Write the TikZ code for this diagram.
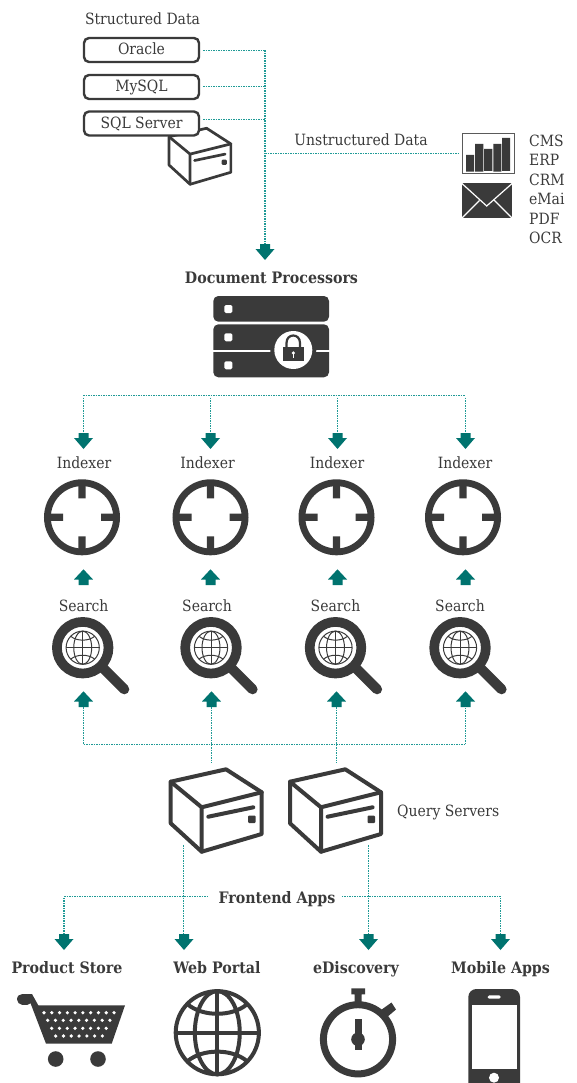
\documentclass[tikz,border=0pt]{standalone}
\usepackage{fontspec}
\setmainfont{DejaVu Serif Condensed}
\definecolor{ink}{HTML}{3A3A3A}
\definecolor{teal1}{HTML}{00736F}
\definecolor{dots}{HTML}{1F9A96}
\definecolor{framec}{HTML}{5A5A5A}
\tikzset{
  lbl/.style={inner sep=0pt,text=ink,text height=11pt,text depth=2pt,font=\fontsize{15.5}{16}\selectfont},
  blbl/.style={lbl,font=\fontsize{15.8}{16}\selectfont\bfseries},
  dbbox/.style={draw=ink,line width=2.4pt,rounded corners=5pt,fill=white,minimum width=115pt,minimum height=24pt,inner sep=0pt,text=ink,text height=12pt,text depth=2pt,font=\fontsize{15.5}{16}\selectfont},
  dotline/.style={draw=dots,line width=1.5pt,dash pattern=on 1.5pt off 1pt},
  pics/downarrow/.style={code={\fill[teal1] (-5,0)--(5,0)--(5,5)--(9.5,5)--(0,16)--(-9.5,5)--(-5,5)--cycle;}},
  pics/uparrow/.style={code={\fill[teal1] (-5,0)--(5,0)--(5,-5.5)--(9.5,-5.5)--(0,-15.7)--(-9.5,-5.5)--(-5,-5.5)--cycle;}},
  pics/crate/.style={code={
    \draw[ink,line join=round,line cap=round,fill=white] (0,0)--(55.3,-12.4)--(91,10.6)--(91,52.3)--(31,70)--(0,41.6)--cycle;
    \draw[ink,line join=round,line cap=round] (0,0)--(31,25.6)--(91,10.6) (31,25.6)--(31,70);
    \draw[ink,line cap=round] (37.6,35)--(82.6,25.6);
    \fill[ink,rounded corners=1pt] (77.5,33.8) rectangle (85,41.3);
  }},
  pics/target/.style={code={
    \draw[ink,line width=6.8pt] (0,0) circle (34.6);
    \fill[ink] (-3.6,-35) rectangle (3.6,-19) (-3.6,35) rectangle (3.6,19) (-35,-3.6) rectangle (-19,3.6) (35,-3.6) rectangle (19,3.6);
  }},
  pics/globe/.style={code={
    \draw[ink] (0,0) circle (1);
    \draw[ink] (0,-1)--(0,1) (-1,0)--(1,0);
    \draw[ink] (0,0) ellipse (.54 and 1);
    \draw[ink] (-.71,-.68) .. controls (-.35,-.38) and (.35,-.38) .. (.71,-.68);
    \draw[ink] (-.71,.68) .. controls (-.35,.38) and (.35,.38) .. (.71,.68);
  }},
  pics/magnifier/.style={code={
    \draw[ink,line width=9.7pt] (0,0) circle (25.8);
    \draw[ink,line width=10pt,line cap=round] (19,19)--(41.6,41.6);
    \pic[scale=16.6,line width=1pt] {globe};
  }}
}
\begin{document}
\begin{tikzpicture}[x=1pt,y=-1pt]
\useasboundingbox (0,0) rectangle (576,1083);
\clip (0,0) rectangle (576,1083);

% --- structured data
\node[lbl] (structured) at (142.5,20.5) {Structured Data};
\pic[scale=.68,line width=2.7pt] at (169,136.7) {crate};
\node[dbbox] (oracle) at (141.5,50) {Oracle};
\node[dbbox] (mysql) at (141.5,87) {MySQL};
\node[dbbox] (sqlserver) at (141.5,123.5) {SQL Server};

% --- unstructured data
\node[lbl] (unstructured) at (361,141.5) {Unstructured Data};
\node[draw=framec,line width=1.4pt,fill=white,minimum width=52pt,minimum height=40pt,inner sep=0pt] (chart) at (488.3,153.8) {};
\fill[ink] (466,155) rectangle (474,171.7)
 (475,144) rectangle (483.3,171.7)
 (484,149) rectangle (492.3,171)
 (493.3,144) rectangle (501.3,171.7)
 (502,138) rectangle (510,171);
\fill[ink] (461.7,183.3) rectangle (512.3,218.3);
\draw[white,line width=1.2pt] (461.7,183.3)--(486.7,206)--(512.3,183.3);
\draw[white,line width=1.2pt] (461.7,218.3)--(479.5,200.5) (512.3,218.3)--(494,200);
\node[lbl,anchor=west] (cms) at (529,142.2) {CMS};
\node[lbl,anchor=west] (erp) at (529,161.5) {ERP};
\node[lbl,anchor=west] (crm) at (529,180.8) {CRM};
\node[lbl,anchor=west] (emai) at (529,200.5) {eMai};
\node[lbl,anchor=west] (pdf) at (529,219.8) {PDF};
\node[lbl,anchor=west] (ocr) at (529,239.2) {OCR};

% --- trunk
\coordinate (trunk) at (265,50.5);
\coordinate (inA) at (265,244);
\draw[dotline,shorten <=3pt] (oracle.east |- trunk) -- (trunk);
\draw[dotline] (trunk) -- (inA);
\draw[dotline,shorten <=3pt] (mysql.east |- 0,86.5) -- (265,86.5);
\draw[dotline,shorten <=3pt] (sqlserver.east |- 0,119.5) -- (265,119.5);
\draw[dotline,shorten >=3pt] (265,153.5) -- (chart.west |- 0,153.5);
\pic at (inA) {downarrow};

% --- document processors
\node[blbl] (docproc) at (271.5,278.5) {Document Processors};
\fill[ink,rounded corners=5pt] (213.3,296) rectangle (329,321.7);
\fill[ink,rounded corners=5pt] (213.3,324.3) rectangle (329,377.3);
\draw[white,line width=2.6pt] (213,350.8)--(330,350.8);
\foreach \yy in {309,337.3,365.3} \fill[white,rounded corners=1.5pt] (224.3,\yy-4) rectangle (232.3,\yy+4);
\fill[ink] (293.3,350) circle (23);
\fill[white] (293.3,350) circle (19);
\draw[ink,line width=2.2pt] (286.5,348) -- (286.5,343) .. controls (286.5,333) and (300,333) .. (300,343) -- (300,348);
\fill[ink] (282.7,347.3) rectangle (304,361.3);
\fill[white] (293.3,353) circle (1.8);
\fill[white] (292.6,353) rectangle (294,358);

% --- indexer row
\coordinate (busT) at (83,395.5);
\coordinate (busTe) at (465,395.5);
\draw[dotline] (busT) -- (busTe);
\foreach \xx/\nm in {83.5/a,210.5/b,337.5/c,465.5/d}{
  \coordinate (dt\nm) at (\xx,433);
  \draw[dotline,shorten <=2pt] (\xx,395.5) -- (dt\nm);
  \pic at (dt\nm) {downarrow};
  \pic at (\xx,585) {uparrow};
}
\node[lbl] (idxa) at (84,463.8) {Indexer};
\node[lbl] (idxb) at (207.5,463.8) {Indexer};
\node[lbl] (idxc) at (337,463.8) {Indexer};
\node[lbl] (idxd) at (465,463.8) {Indexer};
\foreach \xx in {82,210.5,336.5,463}{ \pic at (\xx,517.3) {target}; }

% --- search row
\node[lbl] (sa) at (83.7,606.5) {Search};
\node[lbl] (sb) at (207,606.5) {Search};
\node[lbl] (sc) at (335.5,606.5) {Search};
\node[lbl] (sd) at (460,606.5) {Search};
\foreach \xx in {82.7,211,335.5,460}{ \pic at (\xx,647.7) {magnifier}; }

% --- query bus
\coordinate (busQ) at (83.5,744.5);
\coordinate (busQe) at (465.5,744.5);
\coordinate (ua) at (83.5,707);
\coordinate (ub) at (211.5,707);
\coordinate (uc) at (336.5,707);
\coordinate (ud) at (465.5,707);
\draw[dotline] (ua) -- (busQ) -- (busQe) -- (ud);
\draw[dotline] (ub) -- (211.5,763);
\draw[dotline] (uc) -- (336.5,763);
\foreach \nm in {ua,ub,uc,ud}{ \pic at (\nm) {uparrow}; }

% --- query servers
\pic[line width=4pt] at (170.7,781.7) {crate};
\pic[line width=4pt] at (290,781.7) {crate};
\node[lbl,anchor=west] (query) at (397,811.5) {Query Servers};

% --- frontend
\node[blbl] (frontend) at (277,898.5) {Frontend Apps};
\coordinate (fa) at (64,934);
\coordinate (fb) at (184,934);
\coordinate (fc) at (368.5,934);
\coordinate (fd) at (500.5,934);
\draw[dotline] (fa) |- (209,896.5);
\draw[dotline] (fd) |- (342,896.5);
\draw[dotline] (183.5,845) -- (183.5,934);
\draw[dotline] (368.5,845) -- (fc);
\foreach \nm in {fa,fb,fc,fd}{ \pic at (\nm) {downarrow}; }

\node[blbl] (store) at (67,968.8) {Product Store};
\node[blbl] (portal) at (217,968.8) {Web Portal};
\node[blbl] (ediscovery) at (356,968.8) {eDiscovery};
\node[blbl] (mobile) at (500.5,968.8) {Mobile Apps};

% cart
\draw[ink,line width=11pt,line cap=round] (22.5,999)--(27,999);
\fill[ink] (27,994)--(32,994)--(38.3,1005.3)--(125,1005.3)--(111.7,1043.7)--(46,1043.7)--cycle;
\foreach \yy/\xs/\n in {1012.7/44/9,1020.3/47.7/8,1028.3/51.7/7,1036/55.7/6}{
  \foreach \i in {0,...,\n}{ \fill[white] (\xs+\i*7.78,\yy) circle (1.8); }
}
\fill[ink] (55.7,1059) circle (7.8) (98,1059) circle (7.8);

% web portal globe
\pic[scale=41.6,line width=4pt] at (217.3,1032.7) {globe};

% stopwatch
\draw[ink,line width=7pt] (358,1039.3) circle (34.6);
\fill[ink] (351.3,988.3) rectangle (365,994.3) (354.7,994) rectangle (361.7,1003);
\fill[ink] (381,1010) -- (391.5,1002.5) -- (396,1009.5) -- (386,1018) -- cycle;
\fill[ink] (354.5,1019.3) rectangle (361.5,1050);
\fill[ink] (358,1039.3) circle (6.8);

% phone
\fill[ink,rounded corners=8pt] (468.3,989) rectangle (520,1095);
\fill[white] (471.7,1005.3) rectangle (516.7,1069.3);
\fill[white,rounded corners=1.5pt] (487.7,995.3) rectangle (500.7,998.7);
\fill[white] (494,1077.7) circle (5);
\end{tikzpicture}
\end{document}
